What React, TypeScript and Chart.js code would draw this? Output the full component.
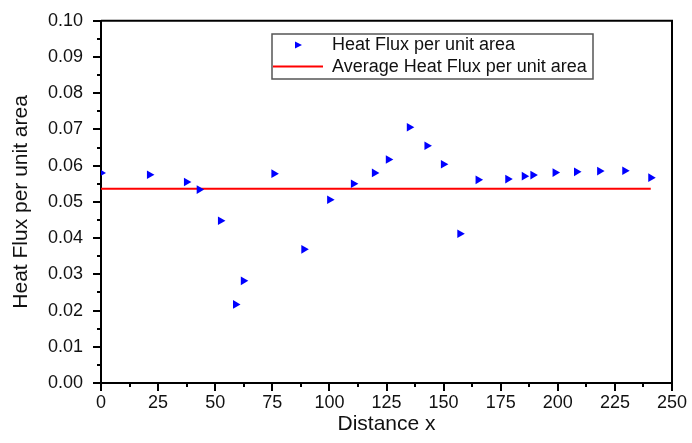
import React, { useEffect, useRef } from "react";
import { Chart, registerables } from "chart.js";

Chart.register(...registerables);

const distance = [0, 21.2, 37.4, 43.0, 52.3, 58.9, 62.3, 75.7, 88.8, 100.1, 110.5, 119.7, 125.8, 135.0, 142.7, 149.9, 157.1, 165.1, 178.1, 185.3, 189.1, 198.8, 208.2, 218.3, 229.3, 240.7];
const heatFlux = [0.0580, 0.0575, 0.0555, 0.0534, 0.0448, 0.0217, 0.0282, 0.0578, 0.0369, 0.0506, 0.0550, 0.0580, 0.0617, 0.0706, 0.0655, 0.0604, 0.0412, 0.0561, 0.0563, 0.0571, 0.0574, 0.0581, 0.0583, 0.0585, 0.0586, 0.0567];
const averageFlux = 0.0536;
const averageRange = [0, 240.7];
const seriesLabels = ["Heat Flux per unit area", "Average Heat Flux per unit area"];
const xTitle = "Distance x";
const yTitle = "Heat Flux per unit area";

const FONT = "'Liberation Sans', Arial, sans-serif";

const framePlugin = {
  id: "frameAndMinor",
  afterDraw(chart: any) {
    const ctx = chart.ctx;
    const { left, right, top, bottom } = chart.chartArea;
    const xs = chart.scales.x;
    const ys = chart.scales.y;
    ctx.save();
    ctx.strokeStyle = "#000";
    ctx.lineWidth = 2;
    ctx.beginPath();
    ctx.moveTo(left, top);
    ctx.lineTo(right, top);
    ctx.lineTo(right, bottom);
    ctx.stroke();
    // minor ticks
    ctx.lineWidth = 2;
    ctx.beginPath();
    for (let v = 12.5; v < 250; v += 25) {
      const px = Math.round(xs.getPixelForValue(v));
      ctx.moveTo(px, bottom);
      ctx.lineTo(px, bottom + 4);
    }
    for (let i = 0; i < 10; i++) {
      const v = 0.005 + i * 0.01;
      const py = Math.round(ys.getPixelForValue(v));
      ctx.moveTo(left, py);
      ctx.lineTo(left - 4, py);
    }
    ctx.stroke();

    // legend
    const bx = 272, by = 34, bw = 321, bh = 45;
    ctx.lineWidth = 1.5;
    ctx.strokeStyle = "#555";
    ctx.fillStyle = "#fff";
    ctx.fillRect(bx, by, bw, bh);
    ctx.strokeRect(bx, by, bw, bh);
    // marker
    ctx.fillStyle = "#0000ff";
    ctx.beginPath();
    ctx.moveTo(295, 41.5);
    ctx.lineTo(302, 45);
    ctx.lineTo(295, 48.5);
    ctx.closePath();
    ctx.fill();
    // red line
    ctx.strokeStyle = "#ff0000";
    ctx.lineWidth = 2;
    ctx.beginPath();
    ctx.moveTo(273, 66.5);
    ctx.lineTo(323, 66.5);
    ctx.stroke();
    ctx.fillStyle = "#111";
    ctx.font = "18px " + FONT;
    ctx.textBaseline = "middle";
    ctx.textAlign = "left";
    ctx.fillText(chart.data.datasets[0].label, 332, 45.5);
    ctx.fillText(chart.data.datasets[1].label, 332, 67);
    ctx.restore();
  },
};

export default function App() {
  const ref = useRef<HTMLCanvasElement>(null);
  useEffect(() => {
    document.body.style.margin = "0";
    const points = distance.map((x, i) => ({ x, y: heatFlux[i] }));
    const avg = averageRange.map((x) => ({ x, y: averageFlux }));
    const chart = new Chart(ref.current as HTMLCanvasElement, {
      type: "scatter",
      data: {
        datasets: [
          {
            label: seriesLabels[0],
            data: points,
            pointStyle: "triangle",
            rotation: 90,
            pointRadius: 5,
            pointBackgroundColor: "#0000ff",
            pointBorderColor: "#0000ff",
            pointBorderWidth: 0,
            clip: { left: 0, top: false, right: false, bottom: false } as any,
          },
          {
            label: seriesLabels[1],
            type: "line",
            data: avg,
            borderColor: "#ff0000",
            borderWidth: 2,
            pointRadius: 0,
            showLine: true,
            fill: false,
          } as any,
        ],
      },
      options: {
        animation: false,
        responsive: true,
        maintainAspectRatio: false,
        layout: { padding: { top: 14, right: 20, left: 0, bottom: 0 } },
        plugins: { legend: { display: false }, tooltip: { enabled: false } },
        scales: {
          x: {
            type: "linear",
            min: 0,
            max: 250,
            ticks: { stepSize: 25, color: "#111", font: { size: 18, family: FONT }, padding: 1, maxRotation: 0 },
            grid: { display: true, drawOnChartArea: false, drawTicks: true, tickLength: 8, color: "#000", lineWidth: 2 },
            border: { display: true, color: "#000", width: 2 },
            title: { display: true, text: xTitle, color: "#111", font: { size: 21, family: FONT }, padding: { top: 0, bottom: 6 } },
            afterFit: (s: any) => { s.height = 60; },
          },
          y: {
            type: "linear",
            min: 0,
            max: 0.1,
            ticks: { stepSize: 0.01, color: "#111", font: { size: 18, family: FONT }, padding: 10, callback: (v: any) => Number(v).toFixed(2) },
            grid: { display: true, drawOnChartArea: false, drawTicks: true, tickLength: 8, color: "#000", lineWidth: 2 },
            border: { display: true, color: "#000", width: 2 },
            title: { display: true, text: yTitle, color: "#111", font: { size: 21, family: FONT }, padding: { top: 9, bottom: 0 } },
            afterFit: (s: any) => { s.width = 101; },
          },
        },
      },
      plugins: [framePlugin],
    });
    return () => chart.destroy();
  }, []);
  return (
    <div style={{ width: 692, height: 443, position: "relative", background: "#fff" }}>
      <canvas ref={ref} />
    </div>
  );
}
